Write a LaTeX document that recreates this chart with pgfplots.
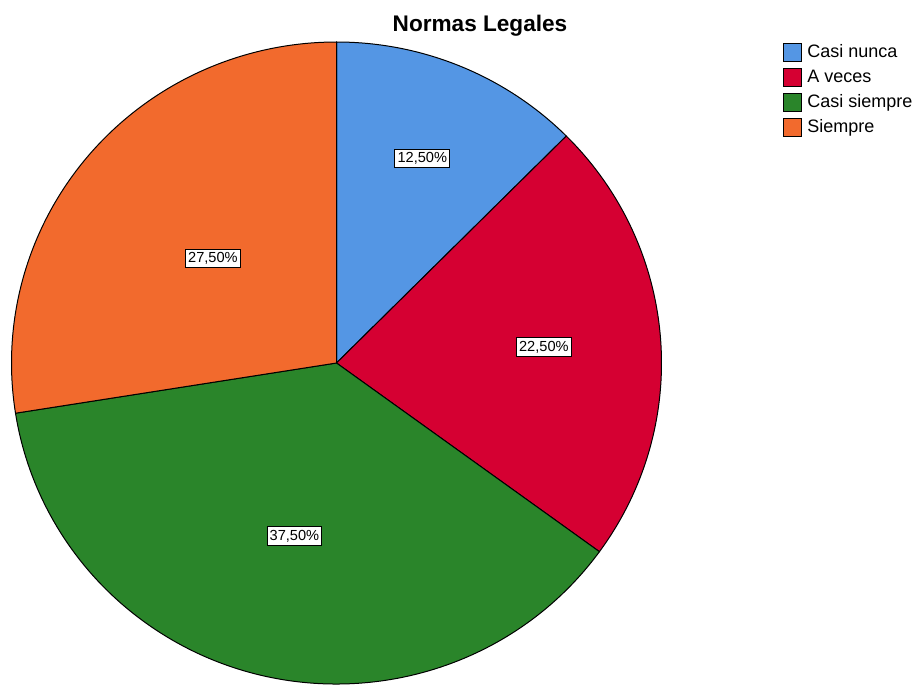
\documentclass[border=0pt]{standalone}
\usepackage{fontspec}
\setmainfont{Liberation Sans}
\usepackage{pgfplots}
\usepackage{pgfplotstable}
\pgfplotsset{compat=1.18}

\definecolor{pie0}{HTML}{5496E4}
\definecolor{pie1}{HTML}{D50032}
\definecolor{pie2}{HTML}{2A852A}
\definecolor{pie3}{HTML}{F26A2D}

% label, percent, label distance (fraction of radius)
\pgfplotstableread[col sep=comma]{
label,pct,lr
Casi nunca,12.5,0.69
A veces,22.5,0.64
Casi siempre,37.5,0.555
Siempre,27.5,0.50
}\piedata

\begin{document}
\begin{tikzpicture}
% start/end angles, clockwise from the top
\xdef\cum{90}
\pgfplotsforeachungrouped \i in {0,...,3}{%
  \pgfplotstablegetelem{\i}{pct}\of\piedata
  \pgfmathsetmacro\tmp{\cum-3.6*\pgfplotsretval}%
  \expandafter\xdef\csname sa\i\endcsname{\cum}%
  \expandafter\xdef\csname ea\i\endcsname{\tmp}%
  \xdef\cum{\tmp}%
}
\begin{axis}[
  width=458pt, height=343.5pt, scale only axis,
  xmin=0, xmax=916, ymin=0, ymax=687,
  hide axis, clip=false,
  /pgf/number format/assume math mode=true,
  legend style={at={(0.8548,0.9374)}, anchor=north west, draw=none, fill=none,
    inner sep=0pt, column sep=2.5pt, row sep=3pt,
    font=\fontsize{9}{10}\selectfont, nodes={inner sep=0pt, anchor=west}},
  legend cell align=left,
  legend image code/.code={\draw[#1,draw=black,line width=0.5pt] (0pt,-4.5pt) rectangle (9pt,4.5pt);},
]
\pgfplotsinvokeforeach{0,...,3}{
  \pgfplotstablegetelem{#1}{label}\of\piedata
  \edef\lab{\pgfplotsretval}
  \addlegendimage{fill=pie#1}
  \expandafter\addlegendentry\expandafter{\lab}
}
\pgfplotsextra{%
  \pgfplotsforeachungrouped \i in {0,...,3}{%
    \edef\sa{\csname sa\i\endcsname}\edef\ea{\csname ea\i\endcsname}%
    \fill[fill=pie\i, draw=black, line width=0.5pt] (axis cs:336.5,324) -- ++(\sa:162.5pt and 160.5pt)
      arc[start angle=\sa, end angle=\ea, x radius=162.5pt, y radius=160.5pt] -- cycle;
  }%
  \pgfplotsforeachungrouped \i in {0,...,3}{%
    \edef\sa{\csname sa\i\endcsname}\edef\ea{\csname ea\i\endcsname}%
    \pgfplotstablegetelem{\i}{pct}\of\piedata \let\pct\pgfplotsretval
    \pgfplotstablegetelem{\i}{lr}\of\piedata \let\lr\pgfplotsretval
    \pgfmathsetmacro\ma{(\sa+\ea)/2}%
    \pgfmathsetmacro\rx{\lr*162.5}%
    \pgfmathsetmacro\ry{\lr*160.5}%
    \path (axis cs:336.5,324) ++(\ma:\rx pt and \ry pt)
      node[draw=black, fill=white, line width=0.5pt, inner xsep=1.3pt, inner ysep=1.6pt,
        font=\fontsize{7.3}{8}\selectfont]
      {\pgfmathprintnumber[fixed, fixed zerofill, precision=2, use comma]{\pct}\%};
  }%
  \node[anchor=base, inner sep=0pt, font=\fontsize{11.3}{13}\selectfont\bfseries]
    at (axis cs:480,655) {Normas Legales};
}
\end{axis}
\pgfresetboundingbox
\useasboundingbox (0,0) rectangle (458pt,343.5pt);
\end{tikzpicture}
\end{document}
